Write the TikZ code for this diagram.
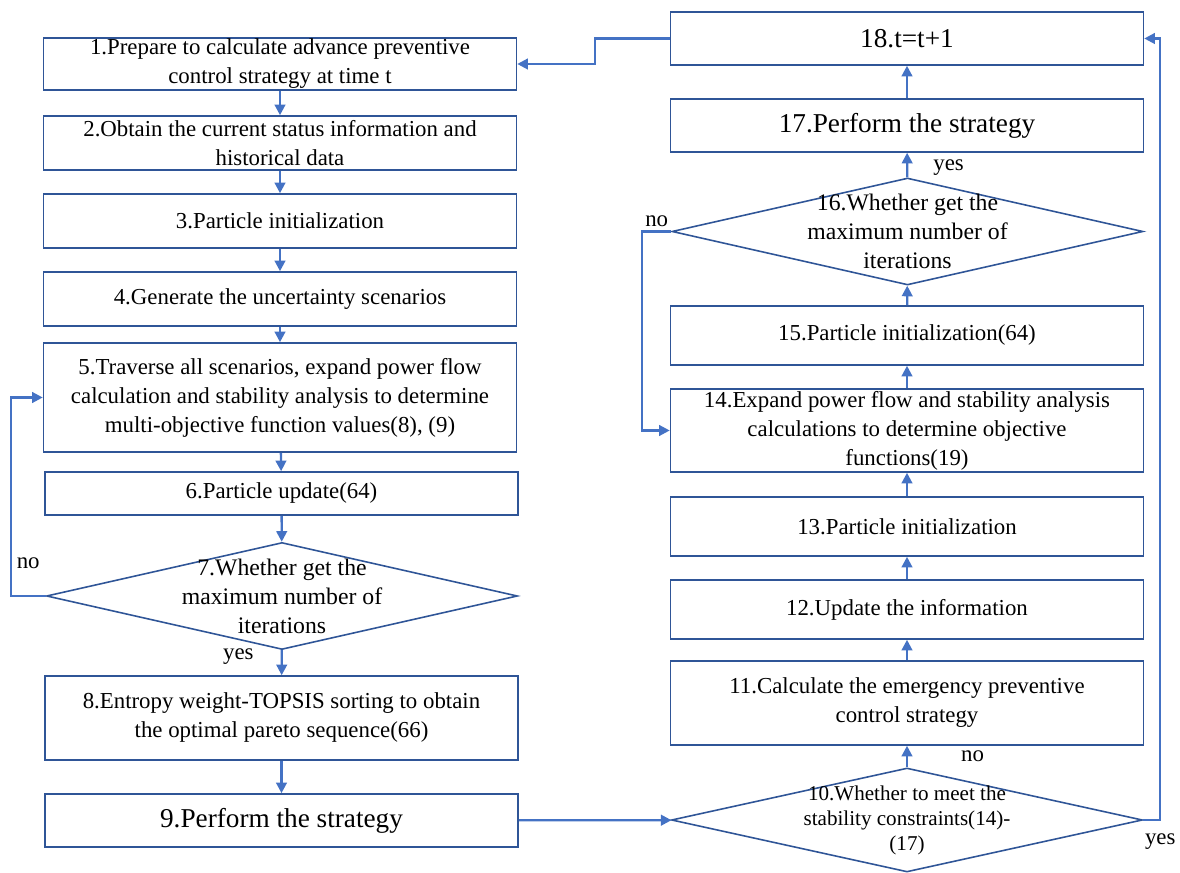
\documentclass[tikz,border=0pt]{standalone}
\usepackage{fontspec}
\setmainfont{Liberation Serif}
\usetikzlibrary{shapes.geometric, arrows.meta, positioning}
\definecolor{boxblue}{RGB}{47,85,151}
\definecolor{lineblue}{RGB}{68,114,196}

\begin{document}
\begin{tikzpicture}[>={Triangle[length=6pt,width=6pt]},
    procbox/.style={draw=boxblue, line width=0.9pt, rectangle, inner sep=0pt, minimum width=9.46cm, align=center, font=\fontsize{13}{16.5}\selectfont},
    decbox/.style={draw=boxblue, line width=0.9pt, diamond, inner sep=0pt, minimum width=9.42cm, minimum height=2.14cm},
    flow/.style={->, draw=lineblue, line width=1.3pt},
    answer/.style={font=\fontsize{13}{15}\selectfont, inner sep=2pt}]

    \useasboundingbox (0,0) rectangle (23.6,17.46);

    % left column
    \node[procbox, minimum height=1.04cm] (b1) at (5.60,16.18) {1.Prepare to calculate advance preventive\\control strategy at time t};
    \node[procbox, minimum height=1.08cm] (b2) at (5.60,14.60) {2.Obtain the current status information and\\historical data};
    \node[procbox, minimum height=1.08cm] (b3) at (5.60,13.04) {3.Particle initialization};
    \node[procbox, minimum height=1.08cm] (b4) at (5.60,11.48) {4.Generate the uncertainty scenarios};
    \node[procbox, minimum height=2.18cm] (b5) at (5.60,9.51) {5.Traverse all scenarios, expand power flow\\calculation and stability analysis to determine\\multi-objective function values(8), (9)};
    \node[procbox, minimum height=0.86cm] (b6) at (5.63,7.59) {6.Particle update(64)};
    \node[decbox, label={[align=center, font=\fontsize{13.5}{16.5}\selectfont]center:{7.Whether get the\\maximum number of\\iterations}}] (d7) at (5.64,5.54) {};
    \node[procbox, minimum height=1.68cm] (b8) at (5.63,3.10) {8.Entropy weight-TOPSIS sorting to obtain\\the optimal pareto sequence(66)};
    \node[procbox, minimum height=1.06cm, font=\fontsize{15.5}{18}\selectfont] (b9) at (5.63,1.05) {9.Perform the strategy};

    % right column
    \node[decbox, minimum height=2.08cm, label={[align=center, font=\fontsize{12}{14.2}\selectfont]center:{10.Whether to meet the\\stability constraints(14)-\\(17)}}] (d10) at (18.14,1.06) {};
    \node[procbox, minimum height=1.68cm] (b11) at (18.14,3.40) {11.Calculate the emergency preventive\\control strategy};
    \node[procbox, minimum height=1.18cm] (b12) at (18.14,5.27) {12.Update the information};
    \node[procbox, minimum height=1.18cm] (b13) at (18.14,6.93) {13.Particle initialization};
    \node[procbox, minimum height=1.66cm] (b14) at (18.14,8.85) {14.Expand power flow and stability analysis\\calculations to determine objective\\functions(19)};
    \node[procbox, minimum height=1.18cm] (b15) at (18.14,10.75) {15.Particle initialization(64)};
    \node[decbox, label={[align=center, font=\fontsize{13.5}{16.5}\selectfont]center:{16.Whether get the\\maximum number of\\iterations}}] (d16) at (18.15,12.83) {};
    \node[procbox, minimum height=1.06cm, font=\fontsize{15.5}{18}\selectfont] (b17) at (18.14,14.95) {17.Perform the strategy};
    \node[procbox, minimum height=1.06cm, font=\fontsize{15.5}{18}\selectfont] (b18) at (18.14,16.69) {18.t=t+1};

    % connectors
    \draw[flow] (b1) -- (b2);
    \draw[flow] (b2) -- (b3);
    \draw[flow] (b3) -- (b4);
    \draw[flow] (b4) -- (b5);
    \draw[flow] (b5) -- (b6);
    \draw[flow] (b6) -- (d7);
    \draw[flow] (d7) -- node[answer, pos=0.27, left=0.47cm] {yes} (b8);
    \draw[flow] (d7.west) -- node[answer, above=0.45cm] {no} ++(-0.7,0) |- (b5.west);
    \draw[flow] (b8) -- (b9);
    \draw[flow] (b9) -- (d10);
    \draw[flow] (d10) -- node[answer, right=0.99cm] {no} (b11);
    \draw[flow] (d10.east) -- node[answer, pos=1, below=0.18cm] {yes} ++(0.34,0) |- (b18.east);
    \draw[flow] (b11) -- (b12);
    \draw[flow] (b12) -- (b13);
    \draw[flow] (b13) -- (b14);
    \draw[flow] (b14) -- (b15);
    \draw[flow] (b15) -- (d16);
    \draw[flow] (d16.west) -- node[answer, above] {no} ++(-0.58,0) |- (b14.west);
    \draw[flow] (d16) -- node[answer, pos=0.38, right=0.43cm] {yes} (b17);
    \draw[flow] (b17) -- (b18);
    \draw[flow] (b18.west) -- ++(-1.5,0) |- (b1.east);
\end{tikzpicture}
\end{document}
